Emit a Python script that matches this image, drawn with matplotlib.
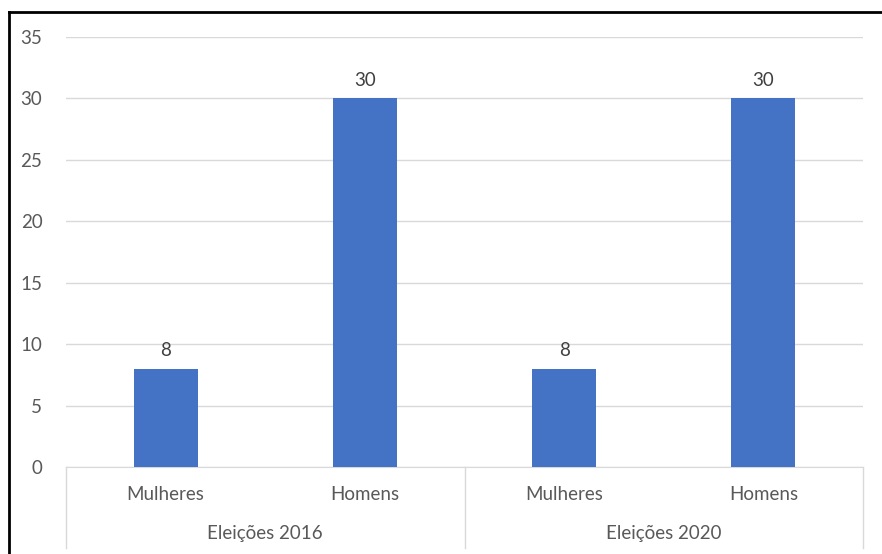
import matplotlib.pyplot as plt
from matplotlib.lines import Line2D

# data
groups = ["Eleições 2016", "Eleições 2020"]
categories = ["Mulheres", "Homens", "Mulheres", "Homens"]
values = [8, 30, 8, 30]
yticks = [0, 5, 10, 15, 20, 25, 30, 35]

plt.rcParams['font.family'] = ['Lato', 'DejaVu Sans']

fig = plt.figure(figsize=(8.82, 5.54), dpi=100)
W, H = 882, 554
ax = fig.add_axes([66 / W, 1 - 467 / H, (863 - 66) / W, (467 - 37) / H])

x = list(range(len(values)))
ax.bar(x, values, width=0.32, color="#4472C4", zorder=3)
for xi, v in zip(x, values):
    ax.text(xi, v + 0.8, str(v), ha="center", va="bottom", fontsize=13.5, color="#404040")

ax.set_xlim(-0.5, len(values) - 0.5)
ax.set_ylim(0, 35)
ax.set_yticks(yticks)
ax.set_yticklabels([str(t) for t in yticks], fontsize=13.5, color="#595959")
ax.tick_params(axis="y", length=0, pad=17)
ax.set_xticks([])
ax.grid(axis="y", color="#D9D9D9", linewidth=1, zorder=0)
for s in ["top", "right", "left"]:
    ax.spines[s].set_visible(False)
ax.spines["bottom"].set_color("#D9D9D9")

# two-level category axis
trans = ax.get_xaxis_transform()
for xi, c in zip(x, categories):
    ax.text(xi, -27 / 430, c, transform=trans, ha="center", va="center",
            fontsize=13.5, color="#595959")
for gi, g in enumerate(groups):
    ax.text(gi * 2 + 0.5, -67 / 430, g, transform=trans, ha="center", va="center",
            fontsize=13.5, color="#595959")
for sx in [-0.5, 1.5, 3.5]:
    ax.add_line(Line2D([sx, sx], [0, -81 / 430], transform=trans, color="#D9D9D9",
                       linewidth=1, clip_on=False))

# outer border
fig.add_artist(Line2D([9 / W, 9 / W], [0, 1 - 12 / H], color="black", linewidth=2))
fig.add_artist(Line2D([9 / W, 1], [1 - 12 / H, 1 - 12 / H], color="black", linewidth=2))

fig.savefig("out.png", dpi=100, facecolor="white")
